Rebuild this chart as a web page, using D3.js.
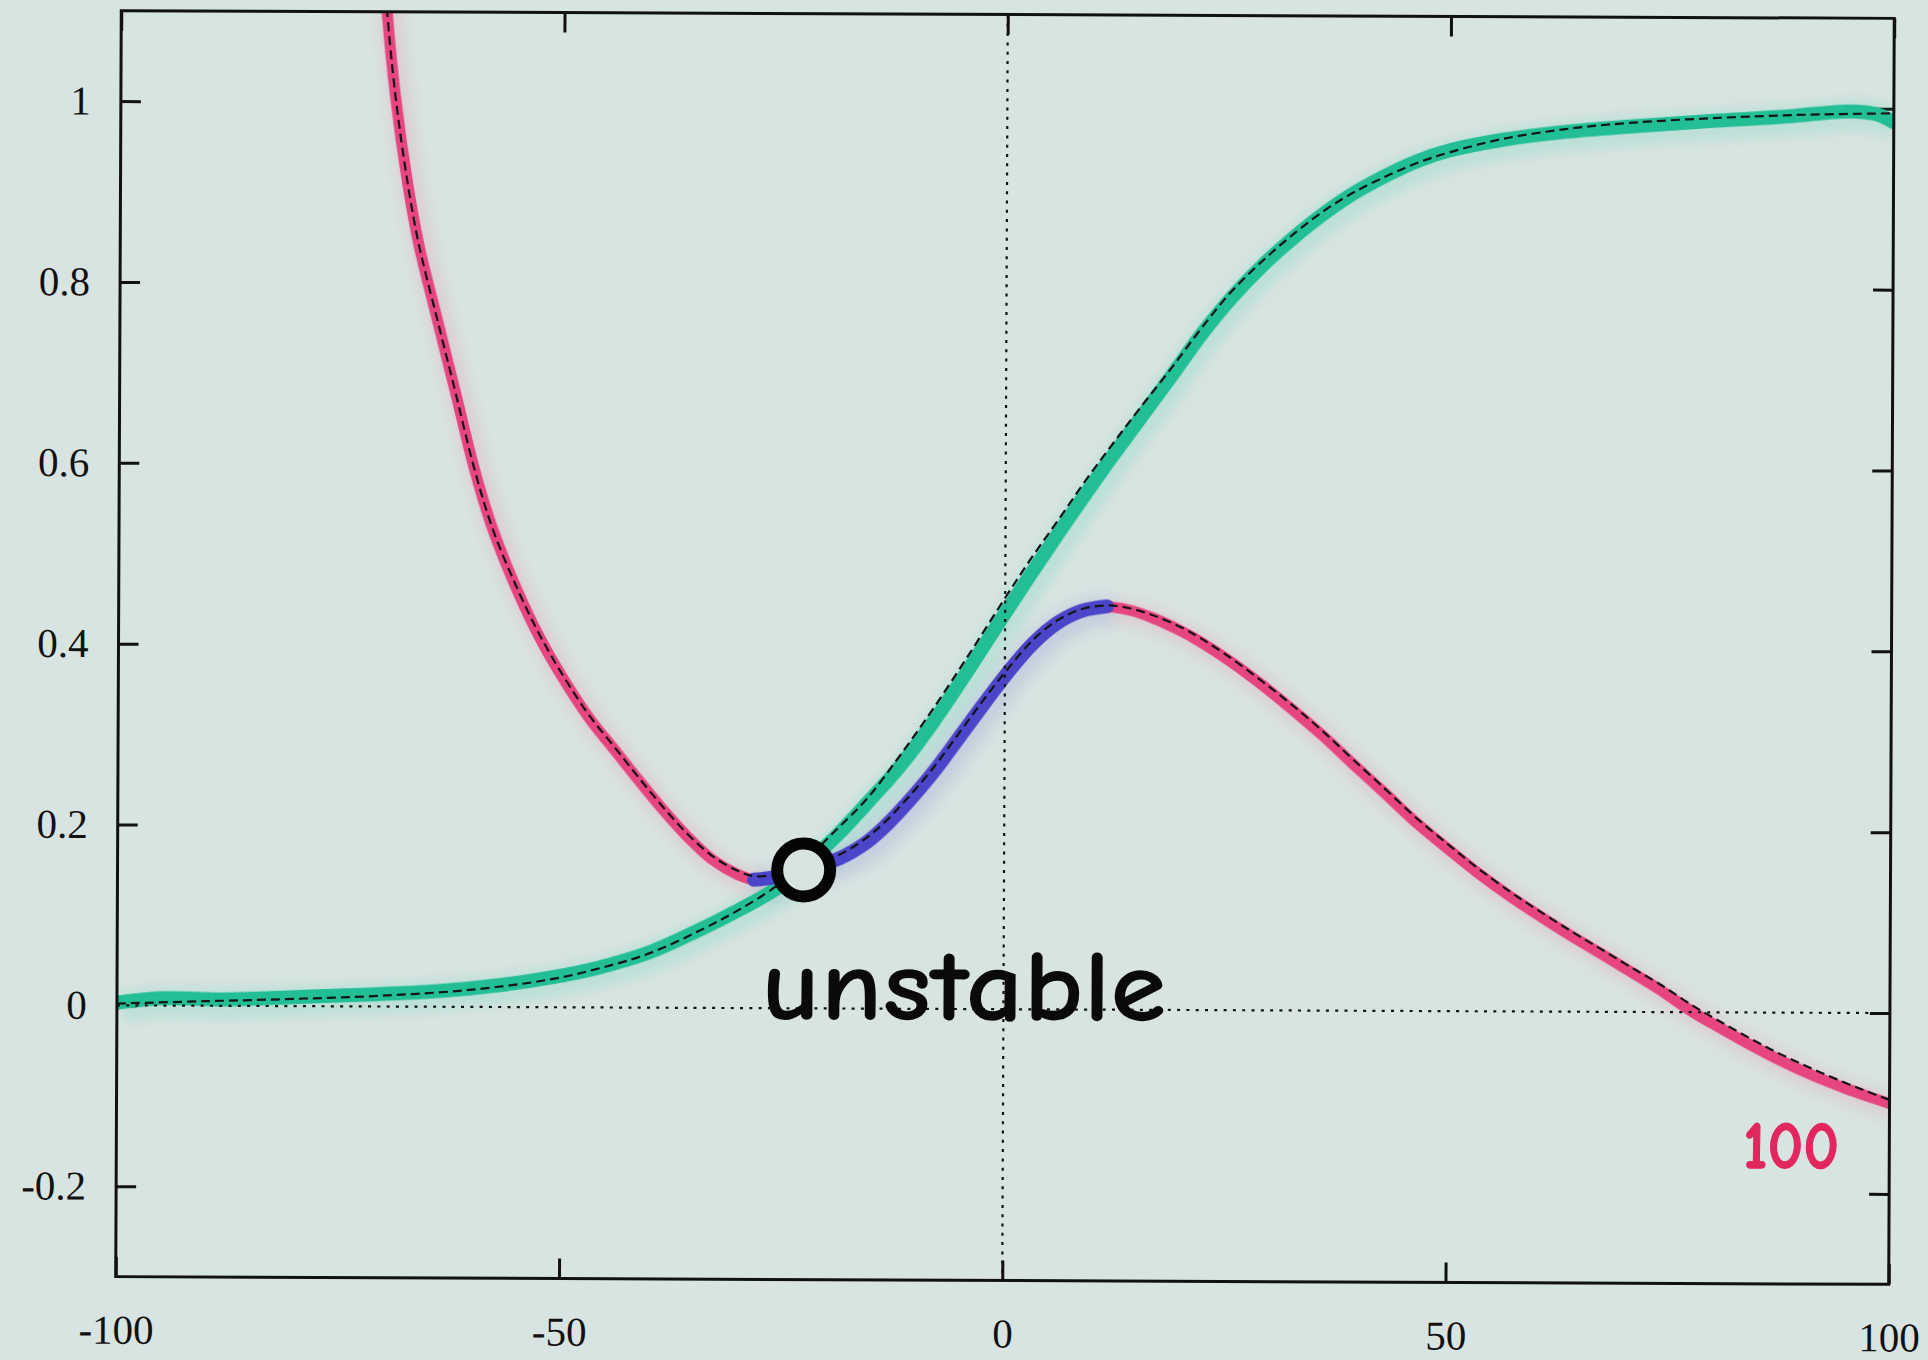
<!DOCTYPE html>
<html>
<head>
<meta charset="utf-8">
<script src="https://cdn.jsdelivr.net/npm/d3@7"></script>
<style>
  html, body { margin: 0; padding: 0; background: #d8e4e1; }
  svg { display: block; }
</style>
</head>
<body>
<svg id="chart" width="1928" height="1360"></svg>
<script>
// ---- axis ticks ----
const xTicks = [-100, -50, 0, 50, 100];
const xTickLabels = ["-100", "-50", "0", "50", "100"];
const yTicks = [-0.2, 0, 0.2, 0.4, 0.6, 0.8, 1];
const yTickLabels = ["-0.2", "0", "0.2", "0.4", "0.6", "0.8", "1"];

// ---- rising (sigmoid) branch: marker trace and fitted curve ----
const riseTrace = [
  [-100, 0.003], [-95, 0.008], [-88, 0.007], [-80, 0.010], [-72, 0.013],
  [-64, 0.017], [-57, 0.024], [-51, 0.033], [-45.7, 0.044], [-40, 0.061],
  [-34.4, 0.086], [-30, 0.108], [-25.7, 0.132], [-22.6, 0.157], [-19, 0.19],
  [-15.5, 0.227], [-11.8, 0.268], [-8, 0.318], [-4, 0.377], [0, 0.438],
  [3, 0.483], [6, 0.527], [9, 0.57], [11.5, 0.605], [15, 0.652],
  [18.5, 0.699], [22, 0.747], [25.4, 0.788], [29, 0.825], [32.4, 0.855],
  [36, 0.883], [39.3, 0.905], [43, 0.925], [46.3, 0.94], [50, 0.952],
  [56, 0.964], [63, 0.973], [70, 0.979], [80, 0.986], [88, 0.991],
  [95, 0.997], [98, 0.994], [100, 0.985]
];
const riseFit = [
  [-100, 0.002], [-90, 0.005], [-80, 0.008], [-70, 0.012], [-60, 0.019],
  [-51, 0.031], [-45.7, 0.043], [-40, 0.060], [-34.4, 0.085], [-30, 0.108],
  [-25.7, 0.135], [-22.6, 0.162], [-19, 0.197], [-15.5, 0.232], [-11.8, 0.280],
  [-8, 0.333], [-4, 0.393], [0, 0.455], [3, 0.500], [6, 0.542],
  [9, 0.585], [12, 0.625], [15, 0.664], [18.5, 0.708], [22, 0.754],
  [25.4, 0.795], [29, 0.83], [32.4, 0.859], [36, 0.886], [39.3, 0.906],
  [43, 0.924], [46.3, 0.938], [50, 0.950], [56, 0.965], [63, 0.976],
  [70, 0.983], [80, 0.989], [90, 0.993], [100, 0.995]
];

// ---- humped branch: pink (left), blue (middle), pink (right) and fitted curve ----
const humpLeftTrace = [
  [-70.3, 1.15], [-70, 1.10], [-69, 1.005], [-67.6, 0.91], [-66.3, 0.842],
  [-64.2, 0.760], [-62.1, 0.679], [-60, 0.597], [-57.9, 0.530], [-55.1, 0.462],
  [-52.4, 0.407], [-49.6, 0.360], [-46.8, 0.319], [-44, 0.285], [-41.3, 0.252],
  [-38.5, 0.219], [-35.7, 0.189], [-32.9, 0.164], [-30.1, 0.148], [-28.2, 0.142],
  [-27.2, 0.143]
];
const humpMidTrace = [
  [-28.2, 0.142], [-25, 0.146], [-22.6, 0.153], [-18.6, 0.166], [-15.5, 0.184],
  [-13.3, 0.203], [-11, 0.227], [-8, 0.262], [-5, 0.302], [-2.4, 0.337],
  [0.3, 0.372], [3.2, 0.405], [6, 0.428], [8.7, 0.441], [11.5, 0.446]
];
const humpRightTrace = [
  [11.5, 0.446], [14, 0.442], [16.5, 0.434], [19.9, 0.419], [22.1, 0.407],
  [25.4, 0.386], [29, 0.36], [32.4, 0.333], [36, 0.303], [39.3, 0.273],
  [43, 0.24], [46.3, 0.21], [50, 0.18], [53.2, 0.155], [57, 0.128],
  [60.1, 0.108], [64, 0.084], [67.1, 0.066], [70.5, 0.046], [74, 0.025],
  [77.8, 0.0], [81, -0.018], [84.5, -0.037], [87.9, -0.054], [91.5, -0.07],
  [94.9, -0.083], [97.5, -0.092], [100, -0.1]
];
const humpFit = [
  [-70.3, 1.15], [-70, 1.10], [-69, 1.005], [-67.6, 0.91], [-66.3, 0.842],
  [-64.2, 0.760], [-62.1, 0.679], [-60, 0.597], [-57.9, 0.530], [-55.1, 0.464],
  [-52.4, 0.410], [-49.6, 0.363], [-46.8, 0.322], [-44, 0.288], [-41.3, 0.255],
  [-38.5, 0.222], [-35.7, 0.192], [-32.9, 0.168], [-30.1, 0.152], [-28.2, 0.146],
  [-25, 0.149], [-22.6, 0.156], [-18.6, 0.170], [-15.5, 0.189], [-13.3, 0.208],
  [-11, 0.232], [-8, 0.267], [-5, 0.307], [-2.4, 0.342], [0.3, 0.376],
  [3.2, 0.409], [6, 0.431], [8.7, 0.443], [11.5, 0.447], [14, 0.444],
  [16.5, 0.437], [19.9, 0.423], [22.1, 0.411], [25.4, 0.390], [29, 0.364],
  [32.4, 0.338], [36, 0.308], [39.3, 0.278], [43, 0.245], [46.3, 0.215],
  [50, 0.185], [53.2, 0.160], [57, 0.133], [60.1, 0.113], [64, 0.089],
  [67.1, 0.071], [70.5, 0.051], [74, 0.031], [77.8, 0.007], [81, -0.011],
  [84.5, -0.030], [87.9, -0.047], [91.5, -0.063], [94.9, -0.077], [97.5, -0.087],
  [100, -0.096]
];

// ---- annotations ----
const unstablePoint = [-22.6, 0.153];
const unstableLabel = { text: "unstable", x: -27.3, y: -0.012 };
const curveLabel = { text: "100", x: 83.5, y: -0.172 };

// ---- layout ----
const frame = { left: 118.5, top: 14.5, width: 1773, height: 1266 };
const tilt = 0.25;
const cx = frame.left + frame.width / 2, cy = frame.top + frame.height / 2;
const paper = "#d8e4e1";

const svg = d3.select("#chart");
const x = d3.scaleLinear().domain([-100, 100]).range([frame.left, frame.left + frame.width]);
const y = d3.scaleLinear().domain([-0.3, 1.1]).range([frame.top + frame.height, frame.top]);

const defs = svg.append("defs");
defs.append("clipPath").attr("id", "plot-clip")
  .append("rect")
  .attr("x", frame.left).attr("y", frame.top)
  .attr("width", frame.width).attr("height", frame.height);
defs.append("filter").attr("id", "glow")
  .attr("x", "-10%").attr("y", "-10%").attr("width", "120%").attr("height", "120%")
  .append("feGaussianBlur").attr("stdDeviation", 6);
defs.append("filter").attr("id", "soft")
  .append("feGaussianBlur").attr("stdDeviation", 0.6);

svg.append("rect").attr("width", 1928).attr("height", 1360).attr("fill", paper);

const g = svg.append("g").attr("transform", `rotate(${tilt} ${cx} ${cy})`);

// ---- axes (ticks point inward on all four sides) ----
const tickFont = "'Liberation Serif', 'Times New Roman', serif";
function styleAxis(sel) {
  sel.select(".domain").remove();
  sel.selectAll(".tick line").attr("stroke", "#111").attr("stroke-width", 3);
  sel.selectAll(".tick text")
    .attr("fill", "#111")
    .style("font-family", tickFont)
    .style("font-size", "41px");
}
g.append("g")
  .attr("transform", `translate(0,${frame.top + frame.height})`)
  .call(d3.axisBottom(x).tickValues(xTicks).tickFormat((d, i) => xTickLabels[i])
    .tickSizeInner(-20).tickSizeOuter(0).tickPadding(38))
  .call(styleAxis);
g.append("g")
  .attr("transform", `translate(0,${frame.top})`)
  .call(d3.axisTop(x).tickValues(xTicks).tickFormat("").tickSizeInner(-20).tickSizeOuter(0))
  .call(styleAxis);
g.append("g")
  .attr("transform", `translate(${frame.left},0)`)
  .call(d3.axisLeft(y).tickValues(yTicks).tickFormat((d, i) => yTickLabels[i])
    .tickSizeInner(-20).tickSizeOuter(0).tickPadding(30))
  .call(styleAxis);
g.append("g")
  .attr("transform", `translate(${frame.left + frame.width},0)`)
  .call(d3.axisRight(y).tickValues(yTicks).tickFormat("").tickSizeInner(-20).tickSizeOuter(0))
  .call(styleAxis);

// ---- plot contents ----
const plot = g.append("g").attr("clip-path", "url(#plot-clip)");
const line = d3.line().x(d => x(d[0])).y(d => y(d[1])).curve(d3.curveCatmullRom.alpha(0.5));

const pink = "#e6457f", green = "#22bf96", blue = "#4c45c9";
const traces = [
  { data: riseTrace, color: green, width: 14 },
  { data: humpLeftTrace, color: pink, width: 11 },
  { data: humpRightTrace, color: pink, width: 11 },
  { data: humpMidTrace, color: blue, width: 14 }
];

// soft halo of the marker ink
plot.selectAll("path.halo").data(traces).join("path")
  .attr("class", "halo")
  .attr("d", d => line(d.data))
  .attr("fill", "none")
  .attr("stroke", d => d.color)
  .attr("stroke-width", d => d.width * 2.2)
  .attr("stroke-opacity", 0.13)
  .attr("transform", "translate(4,4)")
  .attr("filter", "url(#glow)");

plot.selectAll("path.trace").data(traces).join("path")
  .attr("class", "trace")
  .attr("d", d => line(d.data))
  .attr("fill", "none")
  .attr("stroke", d => d.color)
  .attr("stroke-width", d => d.width)
  .attr("stroke-linecap", "round")
  .attr("stroke-linejoin", "round")
  .attr("filter", "url(#soft)");

// zero reference lines
plot.append("line")
  .attr("x1", x(0)).attr("x2", x(0))
  .attr("y1", y(1.1)).attr("y2", y(-0.3))
  .attr("stroke", "#111").attr("stroke-width", 2.2).attr("stroke-dasharray", "3 6.3");
plot.append("line")
  .attr("x1", x(-100)).attr("x2", x(100))
  .attr("y1", y(0)).attr("y2", y(0))
  .attr("stroke", "#111").attr("stroke-width", 2.2).attr("stroke-dasharray", "3 6.3");

// fitted curves (thin dashed)
plot.selectAll("path.fit").data([riseFit, humpFit]).join("path")
  .attr("class", "fit")
  .attr("d", d => line(d))
  .attr("fill", "none")
  .attr("stroke", "#151515")
  .attr("stroke-width", 2.2)
  .attr("stroke-dasharray", "9 5");

// frame
g.append("rect")
  .attr("x", frame.left).attr("y", frame.top)
  .attr("width", frame.width).attr("height", frame.height)
  .attr("fill", "none").attr("stroke", "#111").attr("stroke-width", 3);

// unstable crossing
g.append("circle")
  .attr("cx", x(unstablePoint[0])).attr("cy", y(unstablePoint[1]))
  .attr("r", 26.5)
  .attr("fill", paper).attr("stroke", "#050505").attr("stroke-width", 12);

const handFont = "'Comic Sans MS', 'Comic Neue', 'DejaVu Sans', sans-serif";
g.append("text")
  .attr("x", x(unstableLabel.x)).attr("y", y(unstableLabel.y))
  .attr("textLength", 405).attr("lengthAdjust", "spacingAndGlyphs")
  .attr("fill", "#0a0a0a")
  .style("font-family", handFont)
  .style("font-weight", "bold")
  .style("font-size", "102px")
  .text(unstableLabel.text);

g.append("text")
  .attr("x", x(curveLabel.x)).attr("y", y(curveLabel.y))
  .attr("textLength", 96).attr("lengthAdjust", "spacingAndGlyphs")
  .attr("fill", "#e2265e")
  .attr("stroke", "#e2265e")
  .attr("stroke-width", 1.2)
  .attr("stroke-linejoin", "round")
  .style("font-family", handFont)
  .style("font-weight", "bold")
  .style("font-size", "68px")
  .text(curveLabel.text);
</script>
</body>
</html>
